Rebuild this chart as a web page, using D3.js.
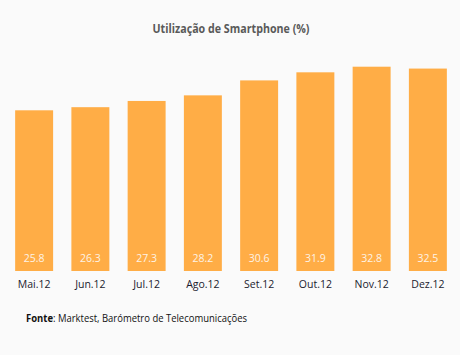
<!DOCTYPE html>
<html><head><meta charset="utf-8">
<script src="https://cdn.jsdelivr.net/npm/d3@7"></script>
<style>html,body{margin:0;padding:0;background:#fafafa;}svg{display:block;}</style>
</head><body>
<script>
const categories = ["Mai.12","Jun.12","Jul.12","Ago.12","Set.12","Out.12","Nov.12","Dez.12"];
const values = [25.8, 26.3, 27.3, 28.2, 30.6, 31.9, 32.8, 32.5];
const title = "Utilização de Smartphone (%)";
const sourceLabel = "Fonte";
const sourceText = ": Marktest, Barómetro de Telecomunicações";

const W = 460, H = 355;
const svg = d3.select("body").append("svg").attr("width", W).attr("height", H);
svg.append("rect").attr("width", W).attr("height", H).attr("fill", "#fafafa");

const font = "'Open Sans', 'Liberation Sans', sans-serif";

const x = d3.scaleBand().domain(categories).range([6, 456]).paddingInner(0.325).paddingOuter(0.1625);
const y = d3.scaleLinear().domain([0, 35]).range([271, 53]);

svg.append("text").attr("x", 231).attr("y", 33).attr("text-anchor", "middle")
  .attr("font-family", font).attr("font-weight", "bold").attr("font-size", 12)
  .attr("fill", "#595959").attr("textLength", 157).attr("lengthAdjust", "spacingAndGlyphs")
  .text(title);

const g = svg.append("g");
g.selectAll("rect.bar").data(values).join("rect").attr("class", "bar")
  .attr("x", (d, i) => x(categories[i])).attr("width", x.bandwidth())
  .attr("y", d => y(d)).attr("height", d => y(0) - y(d))
  .attr("fill", "#ffad46");

g.selectAll("text.val").data(values).join("text").attr("class", "val")
  .attr("x", (d, i) => x(categories[i]) + x.bandwidth() / 2).attr("y", 262)
  .attr("text-anchor", "middle").attr("font-family", font).attr("font-size", 10.5)
  .attr("fill", "#fdf3e6")
  .text(d => d.toFixed(1));

const xAxis = d3.axisBottom(x).tickSize(0).tickPadding(0);
const ax = svg.append("g").attr("transform", "translate(0,271)").call(xAxis);
ax.select(".domain").remove();
ax.selectAll("text").attr("y", 17).attr("dy", 0).attr("font-family", font).attr("font-size", 10.5)
  .attr("fill", "#1a1a2e");

const src = svg.append("text").attr("x", 26).attr("y", 322).attr("font-family", font)
  .attr("font-size", 10).attr("fill", "#111").attr("textLength", 221).attr("lengthAdjust", "spacingAndGlyphs");
src.append("tspan").attr("font-weight", "bold").text(sourceLabel);
src.append("tspan").text(sourceText);
</script>
</body></html>
